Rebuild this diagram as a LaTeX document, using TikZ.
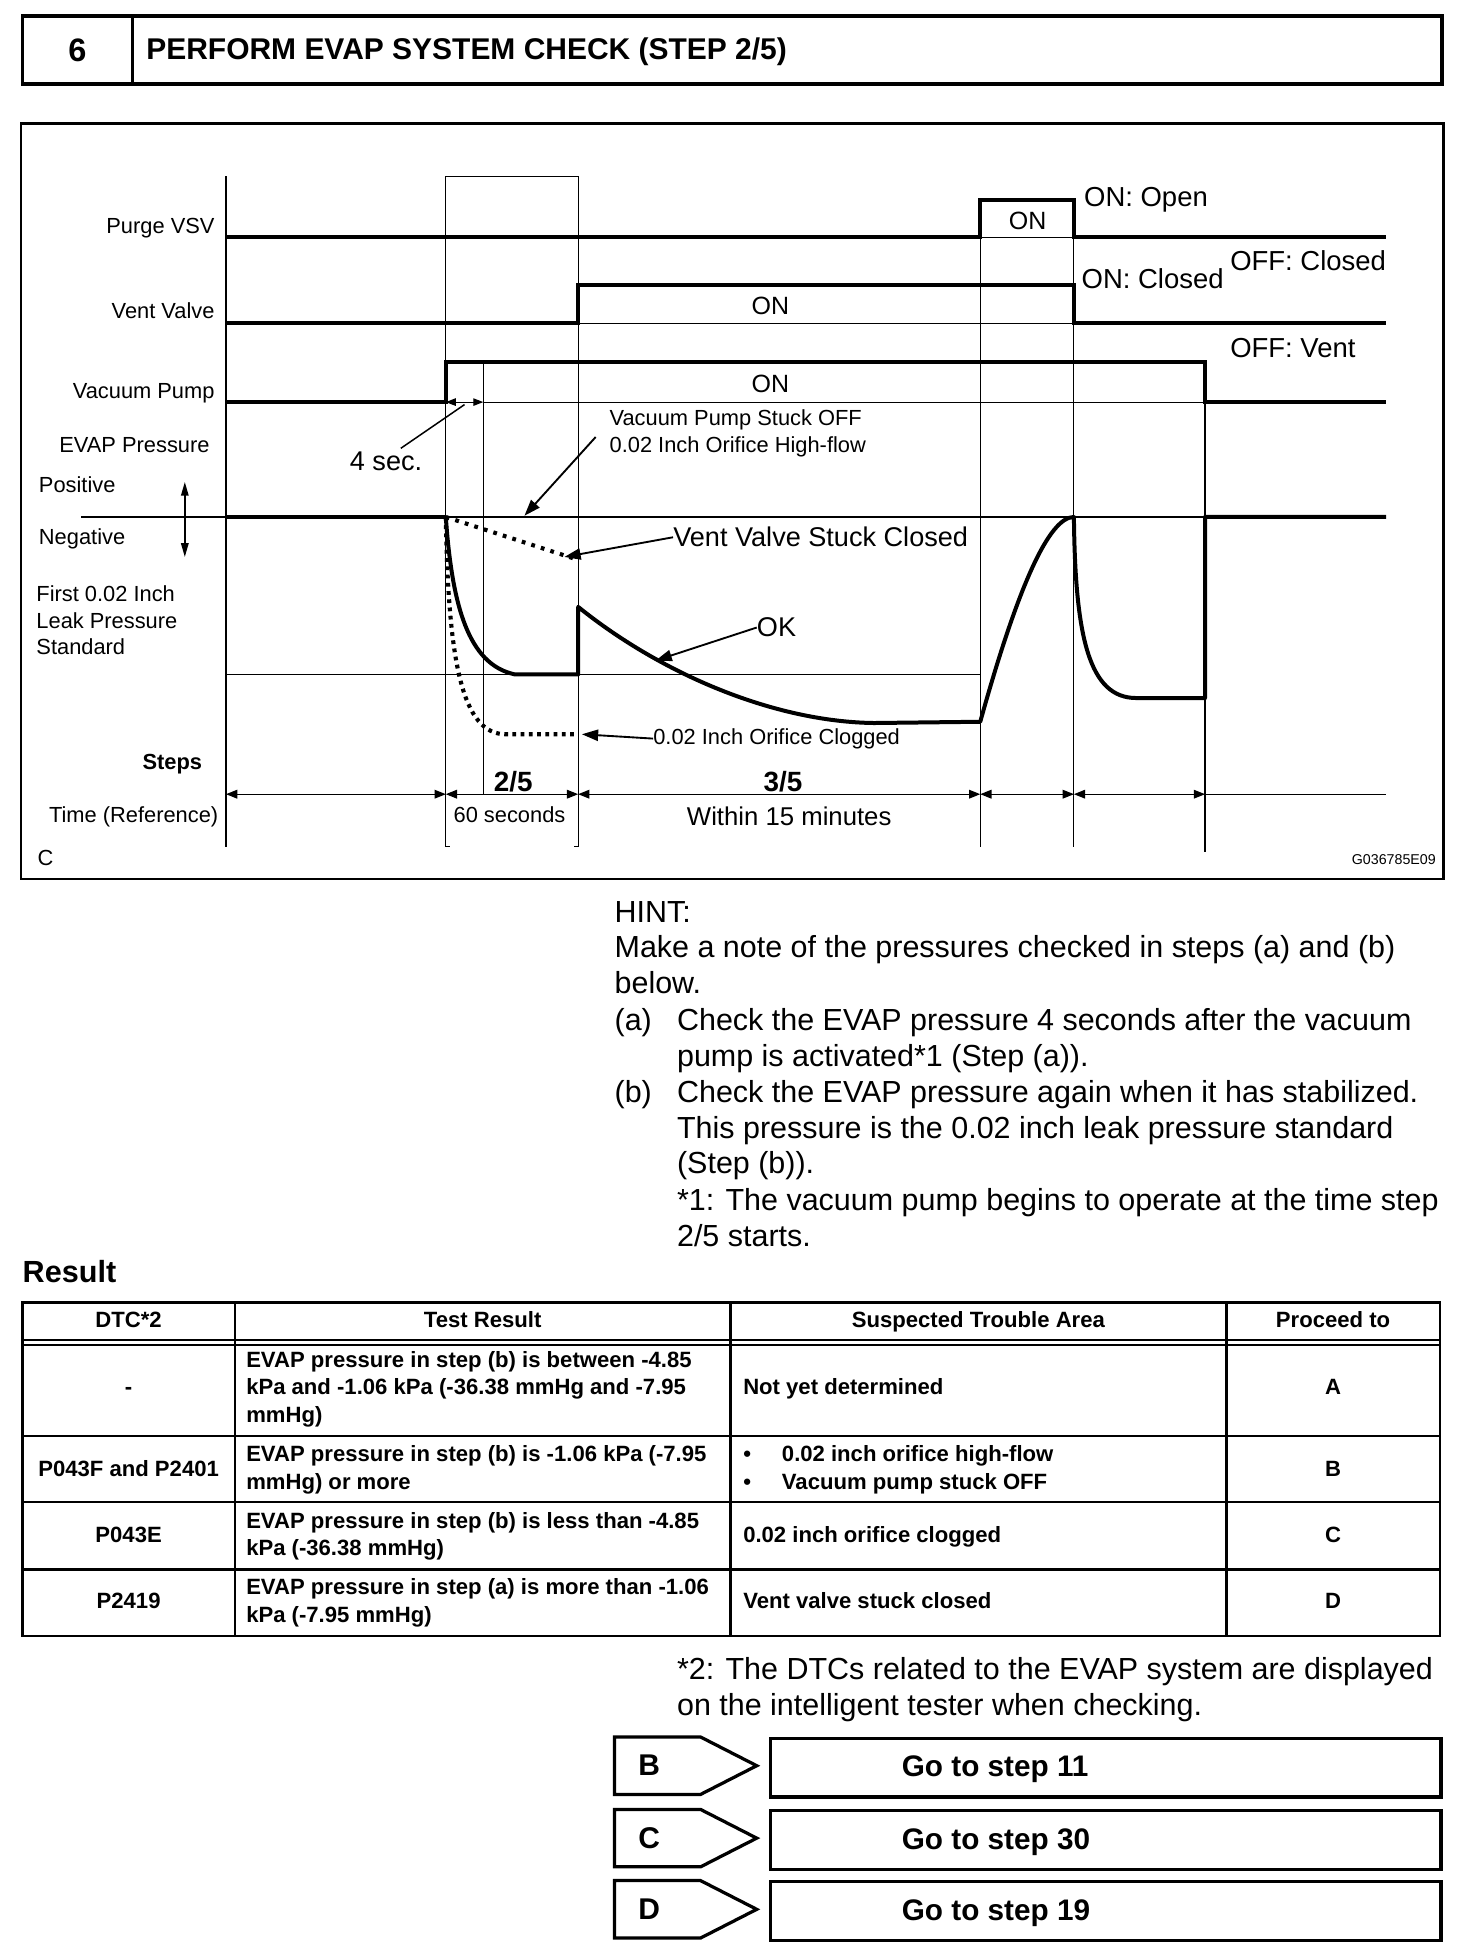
\documentclass[tikz,border=0pt]{standalone}
\usepackage{fontspec}
\setmainfont{Liberation Sans}
\usetikzlibrary{arrows.meta}
\begin{document}
\begin{tikzpicture}[x=1pt,y=-1pt,
  thk/.style={line width=3.2pt},
  thn/.style={line width=0.9pt},
  med/.style={line width=1.6pt},
  dotl/.style={line width=3.3pt, dash pattern=on 3pt off 3.6pt},
  dashl/.style={line width=2.2pt, dash pattern=on 4pt off 3pt},
  lbl/.style={inner sep=0, font=\fontsize{17.5}{21}\selectfont},
  bigl/.style={inner sep=0, font=\fontsize{21.7}{26}\selectfont},
  body/.style={inner sep=0, anchor=base west, font=\fontsize{24.4}{29}\selectfont},
  tb/.style={inner sep=0, font=\bfseries\fontsize{17.7}{22}\selectfont},
  ann/.style={line width=1.5pt, -{Triangle[length=13pt,width=9pt]}},
  tax/.style={thn, {Triangle[length=9pt,width=7pt]}-{Triangle[length=9pt,width=7pt]}},
  tagbox/.style={line width=2.6pt},
]
\useasboundingbox (0,0) rectangle (1179,1568);
\fill[white] (0,0) rectangle (1179,1568);

% ---------- header ----------
\draw[line width=3pt] (18,13) rectangle (1155,67);
\draw[line width=2pt] (106,13) -- (106,67);
\node[inner sep=0, anchor=base, font=\bfseries\fontsize{26}{30}\selectfont] (num) at (62,49) {6};
\node[inner sep=0, anchor=base west, font=\bfseries\fontsize{24}{29}\selectfont] (title) at (117,48) {PERFORM EVAP SYSTEM CHECK (STEP 2/5)};

% ---------- diagram frame ----------
\draw[line width=1.8pt] (17,99) rectangle (1156,704);

% thin grid lines
\draw[med] (181,141) -- (181,678);
\draw[thn] (360,678) -- (357,678) -- (357,141) -- (463,141) -- (463,678) -- (460,678);
\draw[thn] (387,290) -- (387,636);
\draw[thn] (785,160) -- (785,678);
\draw[thn] (860,160) -- (860,678);
\draw[thn] (965,290) -- (965,682);
\draw[thn] (785,190) -- (860,190);
\draw[thn] (463,259) -- (860,259);
\draw[thn] (387,322) -- (965,322);
\draw[thn] (65,414) -- (1110,414);
\draw[thn] (181,540) -- (785,540);

% signals
\draw[thk] (181,190) -- (785,190) -- (785,160) -- (860,160) -- (860,190) -- (1110,190);
\draw[thk] (181,259) -- (463,259) -- (463,228) -- (860,228) -- (860,259) -- (1110,259);
\draw[thk] (181,322) -- (357,322) -- (357,290) -- (965,290) -- (965,322) -- (1110,322);

% pressure curves
\draw[thk] (181,414) -- (357,414);
\draw[thk, line join=round] (357,414) .. controls (362,485) and (375,532) .. (412,540) -- (463,540) -- (463,486)
  .. controls (530,540) and (620,578) .. (700,579) -- (785,578)
  .. controls (815,470) and (840,414) .. (860,414)
  .. controls (861,510) and (872,559) .. (910,559) -- (965,559) -- (965,414) -- (1110,414);
\draw[dotl] (357,414) .. controls (359,530) and (370,588) .. (405,588) -- (463,588);
\draw[dashl] (357,414) -- (463,414);
\draw[line width=3.3pt, dash pattern=on 3pt off 5pt] (357,414) -- (462,448);

% 4 sec marker
\draw[thn, {Triangle[length=8pt,width=6pt]}-{Triangle[length=8pt,width=6pt]}] (357,322) -- (387,322);

% time axis
\draw[tax] (181,636) -- (357,636);
\draw[tax] (357,636) -- (463,636);
\draw[tax] (463,636) -- (785,636);
\draw[tax] (785,636) -- (860,636);
\draw[tax] (860,636) -- (965,636);
\draw[thn] (965,636) -- (1110,636);

% positive/negative arrow
\draw[line width=1.2pt, {Triangle[length=11pt,width=6pt]}-{Triangle[length=11pt,width=6pt]}] (148,386) -- (148,446);

% left labels
\node[lbl, anchor=base east] (lpurge) at (172,187) {Purge VSV};
\node[lbl, anchor=base east] (lvent) at (172,255) {Vent Valve};
\node[lbl, anchor=base east] (lvac) at (172,319) {Vacuum Pump};
\node[lbl, anchor=base east] (levap) at (168,362) {EVAP Pressure};
\node[lbl, anchor=base west] (lpos) at (31,394) {Positive};
\node[lbl, anchor=base west] (lneg) at (31,436) {Negative};
\node[lbl, anchor=base west] (lfirst1) at (29,482) {First 0.02 Inch};
\node[lbl, anchor=base west] (lfirst2) at (29,503) {Leak Pressure};
\node[lbl, anchor=base west] (lfirst3) at (29,524) {Standard};
\node[lbl, anchor=base east, font=\bfseries\fontsize{17.5}{21}\selectfont] (lsteps) at (162,616) {Steps};
\node[lbl, anchor=base east] (ltime) at (175,659) {Time (Reference)};
\node[lbl, anchor=base west] (lc) at (30,693) {C};
\node[inner sep=0, anchor=base east, font=\fontsize{11.4}{13}\selectfont] (code) at (1150,692) {G036785E09};

% signal labels
\node[inner sep=0, anchor=base, font=\fontsize{20}{24}\selectfont] (on1) at (823,184) {ON};
\node[inner sep=0, anchor=base, font=\fontsize{20}{24}\selectfont] (on2) at (617,252) {ON};
\node[inner sep=0, anchor=base, font=\fontsize{20}{24}\selectfont] (on3) at (617,314) {ON};
\node[inner sep=0, anchor=base west, font=\fontsize{22}{26}\selectfont] (onopen) at (868,165) {ON: Open};
\node[inner sep=0, anchor=base west, font=\fontsize{22}{26}\selectfont] (offclosed) at (985,217) {OFF: Closed};
\node[inner sep=0, anchor=base west, font=\fontsize{22}{26}\selectfont] (onclosed) at (866,231) {ON: Closed};
\node[inner sep=0, anchor=base west, font=\fontsize{22}{26}\selectfont] (offvent) at (985,286) {OFF: Vent};

% annotations
\node[bigl, anchor=base west] (foursec) at (280,377) {4 sec.};
\coordinate (fsTail) at (321,359);
\coordinate (fsHead) at (372,324);
\draw[line width=1.2pt] (fsTail) -- (fsHead);

\node[lbl, anchor=base west] (hf1) at (488,341) {Vacuum Pump Stuck OFF};
\node[lbl, anchor=base west] (hf2) at (488,362) {0.02 Inch Orifice High-flow};
\coordinate (hfTail) at (477,350);
\coordinate (hfTip) at (420,413);
\draw[ann] (hfTail) -- (hfTip);

\node[bigl, anchor=base west] (vvsc) at (539,438) {Vent Valve Stuck Closed};
\coordinate (vvTip) at (452,446);
\draw[ann] (vvsc.west) -- (vvTip);

\node[bigl, anchor=base west] (ok) at (606,510) {OK};
\coordinate (okTip) at (525,529);
\draw[ann] (ok.west) -- (okTip);

\node[lbl, anchor=base west] (clog) at (523,596) {0.02 Inch Orifice Clogged};
\coordinate (clTip) at (466,588);
\draw[ann] (clog.west) -- (clTip);

\node[inner sep=0, anchor=base, font=\bfseries\fontsize{22.3}{26}\selectfont] (s25) at (411,634) {2/5};
\node[inner sep=0, anchor=base, font=\bfseries\fontsize{22.3}{26}\selectfont] (s35) at (627,634) {3/5};
\node[lbl, anchor=base] (sixty) at (408,659) {60 seconds};
\node[inner sep=0, anchor=base, font=\fontsize{20.6}{24}\selectfont] (within) at (632,661) {Within 15 minutes};

% ---------- hint ----------
\node[body] (h0) at (492,739) {HINT:};
\node[body] (h1) at (492,767) {Make a note of the pressures checked in steps (a) and (b)};
\node[body] (h2) at (492,796) {below.};
\node[body] (ha) at (492,825) {(a)};
\node[body] (h3) at (542,825) {Check the EVAP pressure 4 seconds after the vacuum};
\node[body] (h4) at (542,854) {pump is activated*1 (Step (a)).};
\node[body] (hb) at (492,883) {(b)};
\node[body] (h5) at (542,883) {Check the EVAP pressure again when it has stabilized.};
\node[body] (h6) at (542,912) {This pressure is the 0.02 inch leak pressure standard};
\node[body] (h7) at (542,940) {(Step (b)).};
\node[body] (h8) at (542,969) {*1: The vacuum pump begins to operate at the time step};
\node[body] (h9) at (542,998) {2/5 starts.};

% ---------- result table ----------
\node[inner sep=0, anchor=base west, font=\bfseries\fontsize{24.5}{29}\selectfont] (result) at (18,1027) {Result};
\draw[line width=2pt] (18,1043) rectangle (1153,1310);
\foreach \x in {188,585,982} \draw[line width=2pt] (\x,1043) -- (\x,1310);
\foreach \y in {1073,1077,1150,1203,1257} \draw[line width=2pt] (18,\y) -- (1153,\y);

\node[tb, anchor=base] (th1) at (103,1063) {DTC*2};
\node[tb, anchor=base] (th2) at (386.5,1063) {Test Result};
\node[tb, anchor=base] (th3) at (783.5,1063) {Suspected Trouble Area};
\node[tb, anchor=base] (th4) at (1067.5,1063) {Proceed to};

\node[tb, anchor=base] (d1) at (103,1117) {-};
\node[tb, anchor=base west] (r1a) at (197,1095) {EVAP pressure in step (b) is between -4.85};
\node[tb, anchor=base west] (r1b) at (197,1117) {kPa and -1.06 kPa (-36.38 mmHg and -7.95};
\node[tb, anchor=base west] (r1c) at (197,1139) {mmHg)};
\node[tb, anchor=base west] (t1) at (595,1117) {Not yet determined};
\node[tb, anchor=base] (p1) at (1067.5,1117) {A};

\node[tb, anchor=base] (d2) at (103,1182) {P043F and P2401};
\node[tb, anchor=base west] (r2a) at (197,1170) {EVAP pressure in step (b) is -1.06 kPa (-7.95};
\node[tb, anchor=base west] (r2b) at (197,1193) {mmHg) or more};
\node[tb, anchor=base west] (b2a) at (595,1170) {•};
\node[tb, anchor=base west] (t2a) at (626,1170) {0.02 inch orifice high-flow};
\node[tb, anchor=base west] (b2b) at (595,1193) {•};
\node[tb, anchor=base west] (t2b) at (626,1193) {Vacuum pump stuck OFF};
\node[tb, anchor=base] (p2) at (1067.5,1182) {B};

\node[tb, anchor=base] (d3) at (103,1235) {P043E};
\node[tb, anchor=base west] (r3a) at (197,1224) {EVAP pressure in step (b) is less than -4.85};
\node[tb, anchor=base west] (r3b) at (197,1246) {kPa (-36.38 mmHg)};
\node[tb, anchor=base west] (t3) at (595,1235) {0.02 inch orifice clogged};
\node[tb, anchor=base] (p3) at (1067.5,1235) {C};

\node[tb, anchor=base] (d4) at (103,1288) {P2419};
\node[tb, anchor=base west] (r4a) at (197,1277) {EVAP pressure in step (a) is more than -1.06};
\node[tb, anchor=base west] (r4b) at (197,1299) {kPa (-7.95 mmHg)};
\node[tb, anchor=base west] (t4) at (595,1288) {Vent valve stuck closed};
\node[tb, anchor=base] (p4) at (1067.5,1288) {D};

% footnote
\node[body] (f1) at (542,1345) {*2: The DTCs related to the EVAP system are displayed};
\node[body] (f2) at (542,1374) {on the intelligent tester when checking.};

% ---------- goto boxes ----------
\foreach \t/\l/\s in {1391/B/11, 1449/C/30, 1506/D/19}{
  \draw[tagbox, line join=miter] (492,\t) -- (561,\t) -- (606,\t+23) -- (561,\t+46) -- (492,\t+46) -- cycle;
  \node[inner sep=0, anchor=base west, font=\bfseries\fontsize{24}{29}\selectfont] (tag\l) at (511,\t+31) {\l};
  \draw[tagbox] (617,\t+1) rectangle (1154,\t+48);
  \node[inner sep=0, anchor=base west, font=\bfseries\fontsize{23.8}{29}\selectfont] (go\l) at (722,\t+32) {Go to step \s};
}
\end{tikzpicture}
\end{document}
